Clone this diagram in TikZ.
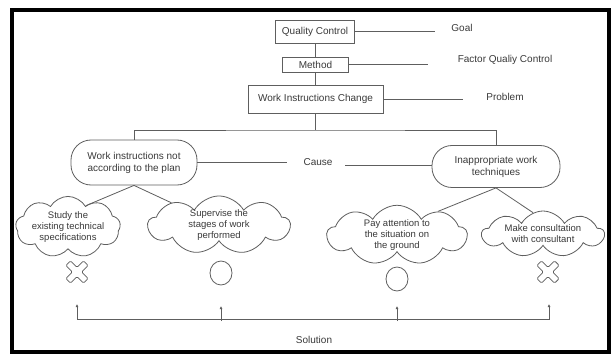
\documentclass[tikz,border=0pt]{standalone}
\usepackage{fontspec}
\setmainfont{Liberation Sans}
\usetikzlibrary{shapes.symbols,arrows.meta}
\definecolor{ln}{HTML}{5E5E5E}
\definecolor{tx}{HTML}{3A3A3A}
\tikzset{dtip/.tip={Latex[length=3pt,width=3pt]}}
\begin{document}
\begin{tikzpicture}[x=1pt,y=-1pt,
  every node/.style={text=tx, font=\fontsize{10}{12}\selectfont},
  lnk/.style={draw=ln, line width=0.8pt},
  box/.style={draw=ln, line width=0.8pt, rectangle, inner sep=0pt, align=center},
  pill/.style={draw=ln, line width=0.8pt, rectangle, rounded corners=20pt, inner sep=0pt, align=center},
  cld/.style={draw=ln, line width=0.8pt, cloud, cloud puffs=9, cloud puff arc=120, cloud ignores aspect, inner sep=0pt, align=center, font=\fontsize{9.5}{11}\selectfont},
  lbl/.style={inner sep=0pt},
  sym/.style={draw=ln, line width=0.8pt}
]
\useasboundingbox (0,0) rectangle (613,358);
\fill[white] (0,0) rectangle (613,358);
\draw[line width=4pt, black] (12,10) rectangle (609,352);

% top boxes
\node[box, minimum width=79pt, minimum height=23pt] (qc) at (315,31.5) {Quality Control};
\node[box, minimum width=66pt, minimum height=15pt] (me) at (315.5,64.5) {Method};
\node[box, minimum width=135pt, minimum height=28pt] (wic) at (315.5,99) {Work Instructions Change};

\node[lbl] (goal) at (462,28) {Goal};
\node[lbl] (fqc) at (505,60) {Factor Qualiy Control};
\node[lbl] (prob) at (505,97) {Problem};
\coordinate (g0) at (435,30);
\coordinate (f0) at (428,64);
\coordinate (p0) at (463,97);
\draw[lnk] (qc.east) -- (qc.east -| g0);
\draw[lnk] (me.east) -- (me.east -| f0);
\draw[lnk] (wic.east) -- (wic.east -| p0);
\draw[lnk] (qc.south) -- (qc.south |- me.north);
\draw[lnk] (me.south) -- (me.south |- wic.north);

% causes
\node[pill, minimum width=126pt, minimum height=45pt] (L) at (134,162.5) {Work instructions not\\according to the plan};
\node[pill, minimum width=128pt, minimum height=42pt] (R) at (496,166.5) {Inappropriate work\\techniques};
\coordinate (j) at (315.5,130);
\draw[lnk] (wic.south) -- (j);
\draw[lnk] (L.north) |- (j) -| (R.north);

\node[lbl] (cause) at (318,162) {Cause};
\coordinate (cl) at (287,162);
\coordinate (cr) at (345,165);
\draw[lnk] (L.east) -- (L.east -| cl);
\draw[lnk] (cr) -- (cr -| R.west);

% solutions
\node[cld, minimum width=104pt, minimum height=51pt] (c1) at (68,227) {Study the\\existing technical\\specifications};
\node[cld, minimum width=142pt, minimum height=50pt] (c2) at (219,225) {Supervise the\\stages of work\\performed};
\node[cld, minimum width=140pt, minimum height=54pt] (c3) at (397,235) {Pay attention to\\the situation on\\the ground};
\node[cld, minimum width=122pt, minimum height=46pt] (c4) at (543,234) {Make consultation\\with consultant};

\draw[lnk] (L.south) -- (c1.50);
\draw[lnk] (L.south) -- (c2.155);
\draw[lnk] (R.south) -- (c3.30);
\draw[lnk] (R.south) -- (c4.115);

% marks
\foreach \cx/\cy in {77/272, 548/272}{
  \draw[sym, rounded corners=1.3pt, shift={(\cx,\cy)}, rotate=45]
    (-3.3,-12.5) -- (3.3,-12.5) -- (3.3,-3.3) -- (12.5,-3.3) -- (12.5,3.3) -- (3.3,3.3)
    -- (3.3,12.5) -- (-3.3,12.5) -- (-3.3,3.3) -- (-12.5,3.3) -- (-12.5,-3.3) -- (-3.3,-3.3) -- cycle;
}
\draw[sym] (221,273) ellipse [x radius=11, y radius=12];
\draw[sym] (397,279) ellipse [x radius=11, y radius=12];

% solution bracket
\coordinate (t1) at (77,304);
\coordinate (b1) at (77,319);
\coordinate (t4) at (549,304);
\coordinate (b4) at (549,319);
\coordinate (t2) at (221,306);
\coordinate (b2) at (221,321);
\coordinate (t3) at (397,306);
\coordinate (b3) at (397,321);
\draw[lnk, line width=0.7pt, {dtip}-{dtip}] (t1) -- (b1) -- (b4) -- (t4);
\draw[lnk, line width=0.7pt, -{dtip}] (b2) -- (t2);
\draw[lnk, line width=0.7pt, -{dtip}] (b3) -- (t3);
\node[lbl] (sol) at (314,340) {Solution};
\end{tikzpicture}
\end{document}
